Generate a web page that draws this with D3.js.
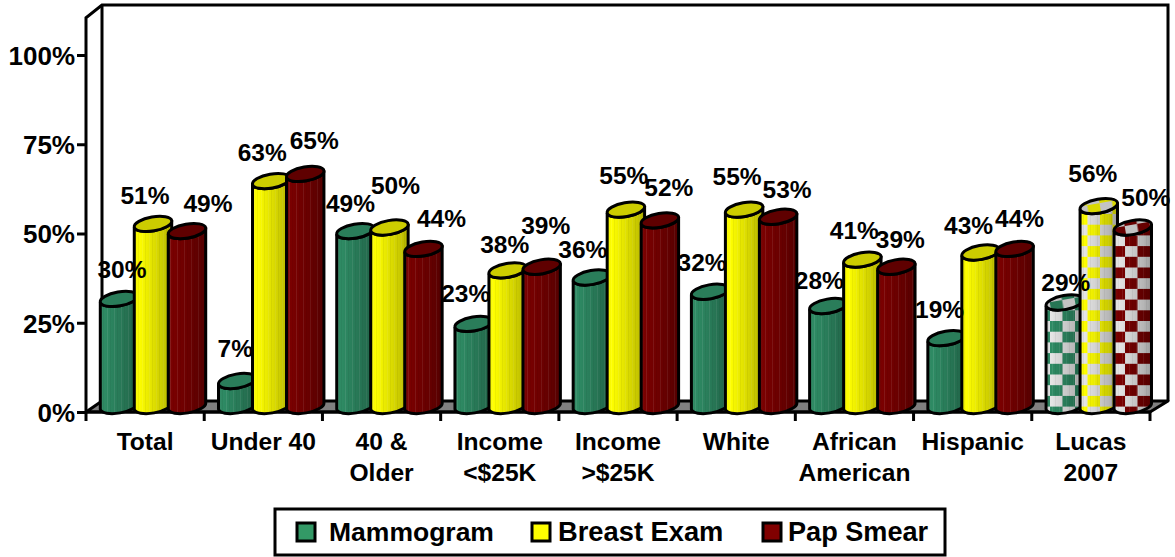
<!DOCTYPE html>
<html><head><meta charset="utf-8">
<script src="https://cdnjs.cloudflare.com/ajax/libs/d3/7.8.5/d3.min.js"></script>
<style>html,body{margin:0;padding:0;background:#fff}svg{display:block}text{font-family:"Liberation Sans",Arial,sans-serif;font-weight:bold;fill:#000}</style>
</head><body><svg id="c" width="1175" height="557"></svg>
<script>
const categories=[["Total"],["Under 40"],["40 &","Older"],["Income","<$25K"],["Income",">$25K"],["White"],["African","American"],["Hispanic"],["Lucas","2007"]];
const seriesNames=["Mammogram","Breast Exam","Pap Smear"];
const mammogram=[30,7,49,23,36,32,28,19,29];
const breastExam=[51,63,50,38,55,55,41,43,56];
const papSmear=[49,65,44,39,52,53,39,44,50];
const yTicks=[0,25,50,75,100];
// label nudges (px) from each bar's top centre
const nudgeX=[[3,-8,21],[-2,-9,9],[-5,6,18],[-8,-3,4],[-9,-2,9],[-8,-7,9],[-9,-8,4],[-7,-12,5],[1,-6,13]];
const nudgeY=[[-30,-29,-28],[-33,-29,-34],[-28,-42,-31],[-31,-26,-42],[-28,-34,-33],[-30,-33,-28],[-26,-29,-28],[-29,-27,-31],[-20,-33,-30]];
const colors=["#2e8b64","#ffff00","#7a0000"];
const topColors=["#2a7d5a","#cccc00","#5f0000"];
const legendColors=["#339966","#ffff00","#800000"];
const legendFontSizes=[26.5,27.3,27.1];

const svg=d3.select("#c"),defs=svg.append("defs");
const x=d3.scaleBand().domain(d3.range(categories.length)).range([86,1150]);
const y=d3.scaleLinear().domain([0,100]).range([412,55]);
const inner=d3.scaleBand().domain([0,1,2]).range([14,116]);
const depth={dx:16,dy:-11};
const rx=19,ry=7,tilt=-10,lift=6;
const sw=3;

// shading
const sh=defs.append("linearGradient").attr("id","shade");
[[0,"#fff",.1],[.12,"#000",0],[.5,"#000",.12],[.8,"#000",.22],[1,"#000",.32]].forEach(s=>sh.append("stop").attr("offset",s[0]).attr("stop-color",s[1]).attr("stop-opacity",s[2]));
const st=defs.append("pattern").attr("id","stripes").attr("patternUnits","userSpaceOnUse").attr("width",7).attr("height",10);
st.append("rect").attr("x",2).attr("width",1).attr("height",10).attr("fill","#fff").attr("opacity",.09);
st.append("rect").attr("x",5).attr("width",1).attr("height",10).attr("fill","#000").attr("opacity",.05);
colors.forEach((c,i)=>{
  const p=defs.append("pattern").attr("id","check"+i).attr("patternUnits","userSpaceOnUse").attr("width",25).attr("height",21.4);
  p.append("rect").attr("width",25).attr("height",21.4).attr("fill","#e6e6e6");
  p.append("rect").attr("width",12.5).attr("height",10.7).attr("fill",c);
  p.append("rect").attr("x",12.5).attr("y",10.7).attr("width",12.5).attr("height",10.7).attr("fill",c);
});

// walls
const L=x.range()[0],R=x.range()[1],Y0=y(0);
const topY=5;
svg.append("path").attr("d",`M${L},${Y0}L${L},${topY+depth.dx*0.8}L${L+depth.dx},${topY}L${R+depth.dx+2},${topY}L${R+depth.dx+2},${Y0+depth.dy}`).attr("fill","none").attr("stroke","#000").attr("stroke-width",sw);
svg.append("line").attr("x1",L+depth.dx).attr("x2",L+depth.dx).attr("y1",topY).attr("y2",Y0+depth.dy).attr("stroke","#000").attr("stroke-width",sw);
svg.append("path").attr("d",`M${L},${Y0}L${L+depth.dx},${Y0+depth.dy}L${R+depth.dx+2},${Y0+depth.dy}L${R},${Y0}Z`).attr("fill","#808080").attr("stroke","#000").attr("stroke-width",sw).attr("stroke-linejoin","round");

// axes
const ay=svg.append("g").attr("transform",`translate(${L},0)`).call(d3.axisLeft(y).tickValues(yTicks).tickFormat(d=>d+"%").tickSize(9).tickSizeOuter(0));
ay.select(".domain").remove();
ay.selectAll("line").attr("stroke","#000").attr("stroke-width",sw);
ay.selectAll("text").attr("x",-11).attr("dy",".36em").style("font-size","26px");

const ax=svg.append("g").attr("transform",`translate(0,${Y0})`);
ax.append("line").attr("x1",L).attr("x2",R).attr("stroke","#000").attr("stroke-width",sw);
ax.selectAll("line.t").data(d3.range(categories.length+1)).enter().append("line").attr("class","t")
  .attr("x1",i=>L+i*x.bandwidth()).attr("x2",i=>L+i*x.bandwidth()).attr("y1",0).attr("y2",9).attr("stroke","#000").attr("stroke-width",sw);
categories.forEach((lines,i)=>{
  const t=ax.append("text").attr("text-anchor","middle").style("font-size","24.6px");
  lines.forEach((s,j)=>t.append("tspan").attr("x",x(i)+x.bandwidth()/2).attr("y",38+j*31).text(s));
});

// bars
const values=[mammogram,breastExam,papSmear];
const rad=tilt*Math.PI/180,cdx=rx*Math.cos(rad),cdy=rx*Math.sin(rad);
const labels=[];
categories.forEach((_,i)=>{
  const checked=i===categories.length-1;
  values.forEach((vals,s)=>{
    const v=vals[i],cx=x(i)+inner(s)+rx,top=y(v)-lift,bot=y(0)-lift;
    const d=`M${cx-cdx},${top-cdy}L${cx-cdx},${bot-cdy}A${rx},${ry} ${tilt} 0 0 ${cx+cdx},${bot+cdy}L${cx+cdx},${top+cdy}A${rx},${ry} ${tilt} 0 1 ${cx-cdx},${top-cdy}Z`;
    const g=svg.append("g");
    g.append("path").attr("d",d).attr("fill",checked?`url(#check${s})`:colors[s]);
    g.append("path").attr("d",d).attr("fill","url(#stripes)");
    g.append("path").attr("d",d).attr("fill","url(#shade)").attr("stroke","#000").attr("stroke-width",sw);
    const ell=()=>g.append("ellipse").attr("cx",cx).attr("cy",top).attr("rx",rx).attr("ry",ry).attr("transform",`rotate(${tilt} ${cx} ${top})`);
    ell().attr("fill",checked?`url(#check${s})`:topColors[s]);
    ell().attr("fill",checked?"#000":"none").attr("fill-opacity",.15).attr("stroke","#000").attr("stroke-width",sw);
    labels.push({t:v+"%",x:cx+nudgeX[i][s],y:top+nudgeY[i][s]});
  });
});
svg.append("g").selectAll("text").data(labels).enter().append("text")
  .attr("x",d=>d.x).attr("y",d=>d.y).attr("text-anchor","middle").attr("dy",".36em").style("font-size","24.5px").text(d=>d.t);

// legend
svg.append("rect").attr("x",275).attr("y",509).attr("width",670).attr("height",46).attr("fill","#fff").attr("stroke","#000").attr("stroke-width",sw);
const legendX=d3.scaleOrdinal().domain(seriesNames).range([297,532,763]);
const legendTextX=d3.scaleOrdinal().domain(seriesNames).range([329,558,788]);
seriesNames.forEach((n,i)=>{
  svg.append("rect").attr("x",legendX(n)).attr("y",523).attr("width",18).attr("height",18).attr("fill",legendColors[i]).attr("stroke","#000").attr("stroke-width",sw);
  svg.append("text").attr("x",legendTextX(n)).attr("y",541).style("font-size",legendFontSizes[i]+"px").text(n);
});
</script></body></html>
